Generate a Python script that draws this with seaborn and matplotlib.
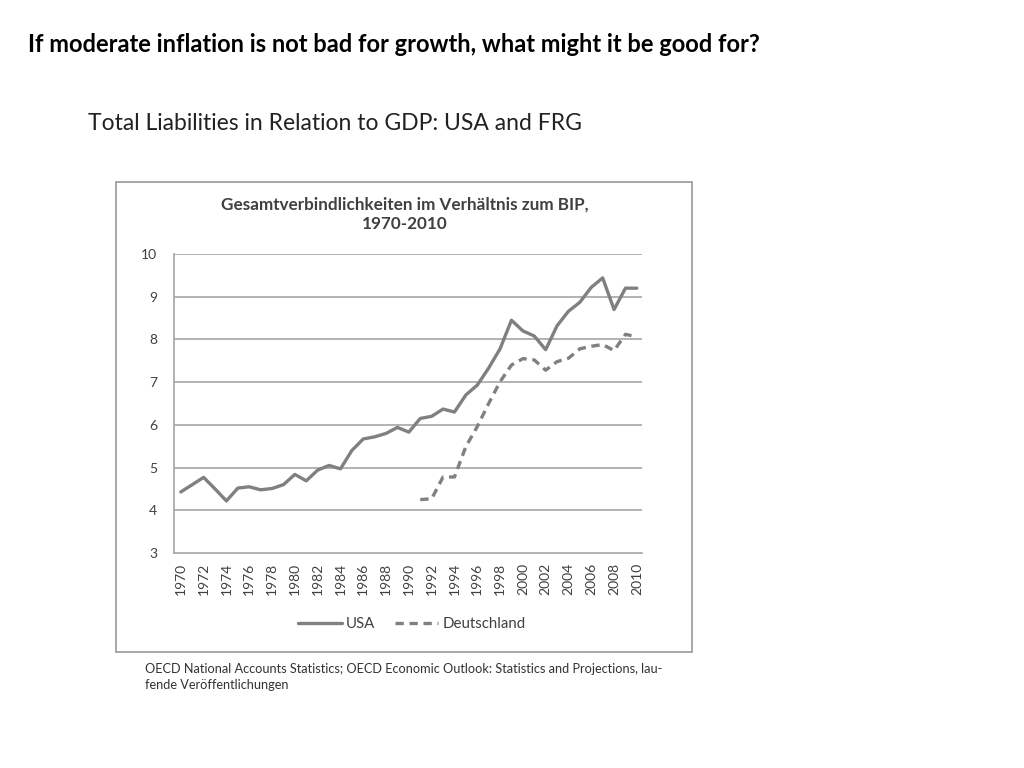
import numpy as np
import pandas as pd
import seaborn as sns
import matplotlib.pyplot as plt
from matplotlib.patches import Rectangle
from matplotlib.lines import Line2D

# Data
years_usa = list(range(1970, 2011))
usa = [4.43, 4.6, 4.77, 4.5, 4.22, 4.52, 4.55, 4.48, 4.51, 4.6,
       4.84, 4.69, 4.94, 5.05, 4.97, 5.4, 5.67, 5.72, 5.8, 5.94,
       5.83, 6.15, 6.2, 6.37, 6.3, 6.7, 6.93, 7.33, 7.78, 8.45,
       8.2, 8.08, 7.76, 8.32, 8.66, 8.87, 9.22, 9.44, 8.7, 9.2, 9.2]
years_de = list(range(1991, 2011))
deutschland = [4.25, 4.27, 4.78, 4.78, 5.49, 5.96, 6.5, 7.01, 7.4, 7.55,
               7.52, 7.28, 7.48, 7.56, 7.78, 7.84, 7.88, 7.74, 8.12, 8.06]
year_ticks = list(range(1970, 2011, 2))
y_ticks = [3, 4, 5, 6, 7, 8, 9, 10]

df = pd.concat([
    pd.DataFrame({'year': years_usa, 'value': usa, 'country': 'USA'}),
    pd.DataFrame({'year': years_de, 'value': deutschland, 'country': 'Deutschland'}),
])

sns.set_style('white')
plt.rcParams['font.family'] = ['Lato', 'DejaVu Sans']

gray = '#808080'
txt = '#404040'
dash = (2.5, 1.7)

fig = plt.figure(figsize=(10.24, 7.68), dpi=100)

# page headings
fig.text(28 / 1024, 1 - 45 / 768, 'If moderate inflation is not bad for growth, what might it be good for?',
         fontsize=17, fontweight='bold', color='black', va='center', ha='left')
fig.text(88 / 1024, 1 - 124 / 768, 'Total Liabilities in Relation to GDP: USA and FRG',
         fontsize=16.5, color='#222222', va='center', ha='left')

# chart frame
fig.patches.append(Rectangle((116 / 1024, 1 - 652 / 768), (692 - 116) / 1024, (652 - 182) / 768,
                             transform=fig.transFigure, fill=False, edgecolor='#9a9a9a', linewidth=1.2))
fig.text(405 / 1024, 1 - 214 / 768, 'Gesamtverbindlichkeiten im Verhältnis zum BIP,\n1970-2010',
         fontsize=12.3, fontweight='bold', color=txt, ha='center', va='center', linespacing=1.3)

ax = fig.add_axes([174 / 1024, 1 - 553 / 768, (642 - 174) / 1024, (553 - 254) / 768])
sns.lineplot(data=df, x='year', y='value', hue='country', style='country',
             palette={'USA': gray, 'Deutschland': gray},
             dashes={'USA': '', 'Deutschland': dash},
             linewidth=2.4, legend=False, ax=ax)

ax.set_xlim(1969.4, 2010.45)
ax.set_ylim(3, 10)
ax.set_yticks(y_ticks)
ax.set_xticks(year_ticks)
ax.set_xticks(years_usa, minor=True)
ax.set_xticklabels([str(y) for y in year_ticks], rotation=90)
ax.set_xlabel('')
ax.set_ylabel('')
for y in y_ticks[1:]:
    ax.axhline(y, color='#a6a6a6', linewidth=1.2, zorder=0)
for s in ['top', 'right']:
    ax.spines[s].set_visible(False)
for s in ['left', 'bottom']:
    ax.spines[s].set_color('#a6a6a6')
    ax.spines[s].set_linewidth(1.2)
ax.tick_params(axis='y', which='major', length=4, color='#a6a6a6', labelsize=10, labelcolor=txt, pad=8)
ax.tick_params(axis='x', which='both', length=4, color='#a6a6a6', direction='out',
               labelsize=10, labelcolor=txt, pad=3)
ax.set_facecolor('white')

handles = [Line2D([], [], color=gray, linewidth=2.4),
           Line2D([], [], color=gray, linewidth=2.4, dashes=dash)]
fig.legend(handles, ['USA', 'Deutschland'], loc='center', bbox_to_anchor=(412 / 1024, 1 - 624 / 768),
           ncol=2, frameon=False, fontsize=10.8, labelcolor=txt, handlelength=2.9,
           handletextpad=0.3, columnspacing=1.3)

fig.text(145 / 1024, 1 - 677 / 768,
         'OECD National Accounts Statistics; OECD Economic Outlook: Statistics and Projections, lau-\nfende Veröffentlichungen',
         fontsize=9.2, color='#333333', ha='left', va='center', linespacing=1.45)

fig.savefig('out.png', dpi=100, facecolor='white')
